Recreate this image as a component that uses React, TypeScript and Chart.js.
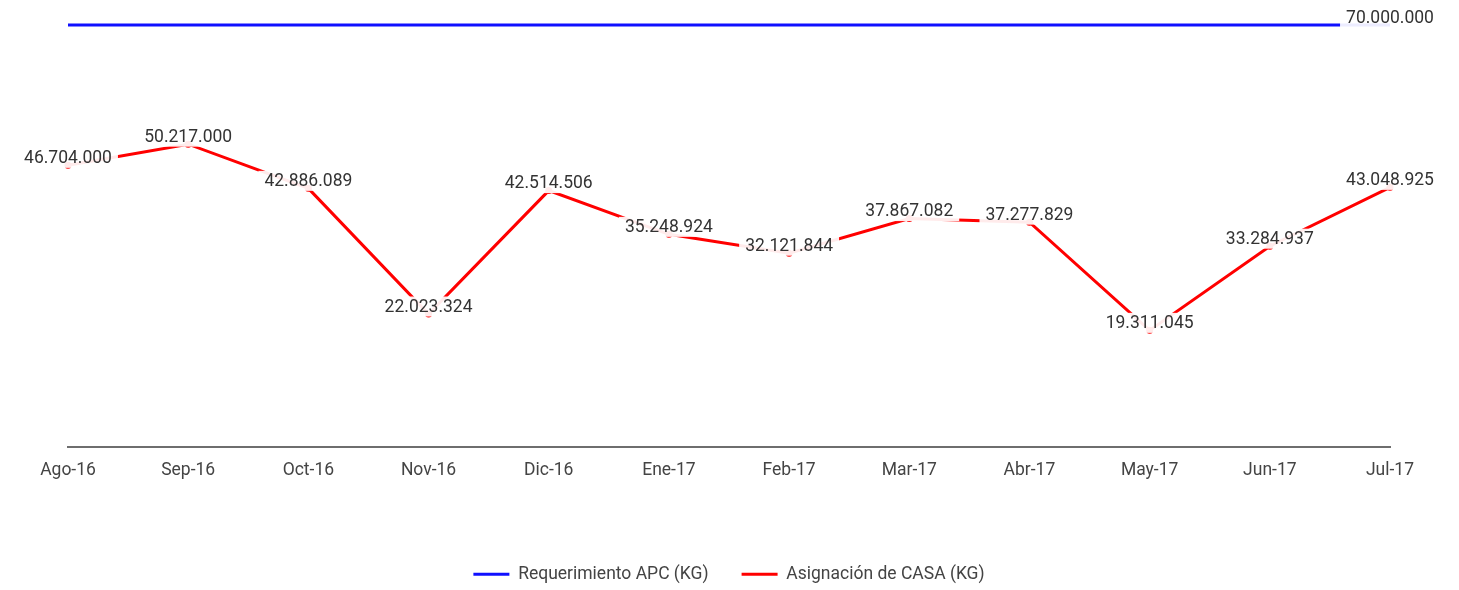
import React, { useEffect, useRef } from "react";
import { Chart, registerables } from "chart.js";

Chart.register(...registerables);

const categories = ["Ago-16", "Sep-16", "Oct-16", "Nov-16", "Dic-16", "Ene-17", "Feb-17", "Mar-17", "Abr-17", "May-17", "Jun-17", "Jul-17"];
const requerimiento = [70000000, 70000000, 70000000, 70000000, 70000000, 70000000, 70000000, 70000000, 70000000, 70000000, 70000000, 70000000];
const asignacion = [46704000, 50217000, 42886089, 22023324, 42514506, 35248924, 32121844, 37867082, 37277829, 19311045, 33284937, 43048925];
const seriesNames = ["Requerimiento APC (KG)", "Asignación de CASA (KG)"];

const FONT = "Roboto";
const FS = 17.5;

function fmt(v: number): string {
  return Math.round(v).toString().replace(/\B(?=(\d{3})+(?!\d))/g, ".");
}

const labelPlugin = {
  id: "valueLabels",
  afterDatasetsDraw(chart: any) {
    const ctx = chart.ctx;
    ctx.save();
    ctx.font = `${FS}px ${FONT}`;
    ctx.textAlign = "center";
    ctx.textBaseline = "middle";
    chart.data.datasets.forEach((ds: any, di: number) => {
      const meta = chart.getDatasetMeta(di);
      meta.data.forEach((pt: any, i: number) => {
        if (di === 0 && i !== ds.data.length - 1) return;
        const text = fmt(ds.data[i]);
        const w = ctx.measureText(text).width;
        const x = pt.x;
        const y = pt.y;
        ctx.fillStyle = "rgba(255,255,255,0.92)";
        ctx.fillRect(x - w / 2 - 6, y - 17.5, w + 12, 20);
        ctx.fillStyle = "#333333";
        ctx.fillText(text, x, y - 6.5);
      });
    });
    ctx.restore();
  },
};

export default function App() {
  const ref = useRef<HTMLCanvasElement | null>(null);
  useEffect(() => {
    if (!ref.current) return;
    const chart = new Chart(ref.current, {
      type: "line",
      data: {
        labels: categories,
        datasets: [
          {
            label: seriesNames[0],
            data: requerimiento,
            borderColor: "#1010ff",
            backgroundColor: "#1010ff",
            borderWidth: 3,
            pointRadius: 0,
            pointBorderWidth: 3,
            pointStyle: "circle",
            tension: 0,
            clip: 10,
          },
          {
            label: seriesNames[1],
            data: asignacion,
            borderColor: "#ff0000",
            backgroundColor: "#ff0000",
            borderWidth: 3,
            pointRadius: 2,
            pointBorderWidth: 3,
            pointStyle: "circle",
            tension: 0,
            clip: 10,
          },
        ],
      },
      options: {
        animation: false,
        responsive: true,
        maintainAspectRatio: false,
        layout: { padding: { left: 68, right: 69, top: 25, bottom: -3 } },
        scales: {
          x: {
            offset: false,
            grid: { display: false, drawTicks: false },
            border: { display: true, color: "#6e6e6e", width: 2 },
            ticks: { color: "#444444", font: { family: FONT, size: FS }, padding: 13, maxRotation: 0, autoSkip: false },
            afterFit: (scale: any) => {
              scale.height = 85.8;
            },
          },
          y: {
            display: false,
            min: 0,
            max: 70000000,
          },
        },
        plugins: {
          legend: {
            position: "bottom",
            labels: {
              usePointStyle: true,
              pointStyle: "line",
              pointStyleWidth: 36,
              color: "#444444",
              font: { family: FONT, size: FS },
              padding: 33,
            },
          },
          tooltip: { enabled: false },
        },
      },
      plugins: [labelPlugin],
    });
    return () => chart.destroy();
  }, []);
  return (
    <div style={{ position: "fixed", left: 0, top: 0, width: 1459, height: 590, background: "#fff" }}>
      <canvas ref={ref} />
    </div>
  );
}
